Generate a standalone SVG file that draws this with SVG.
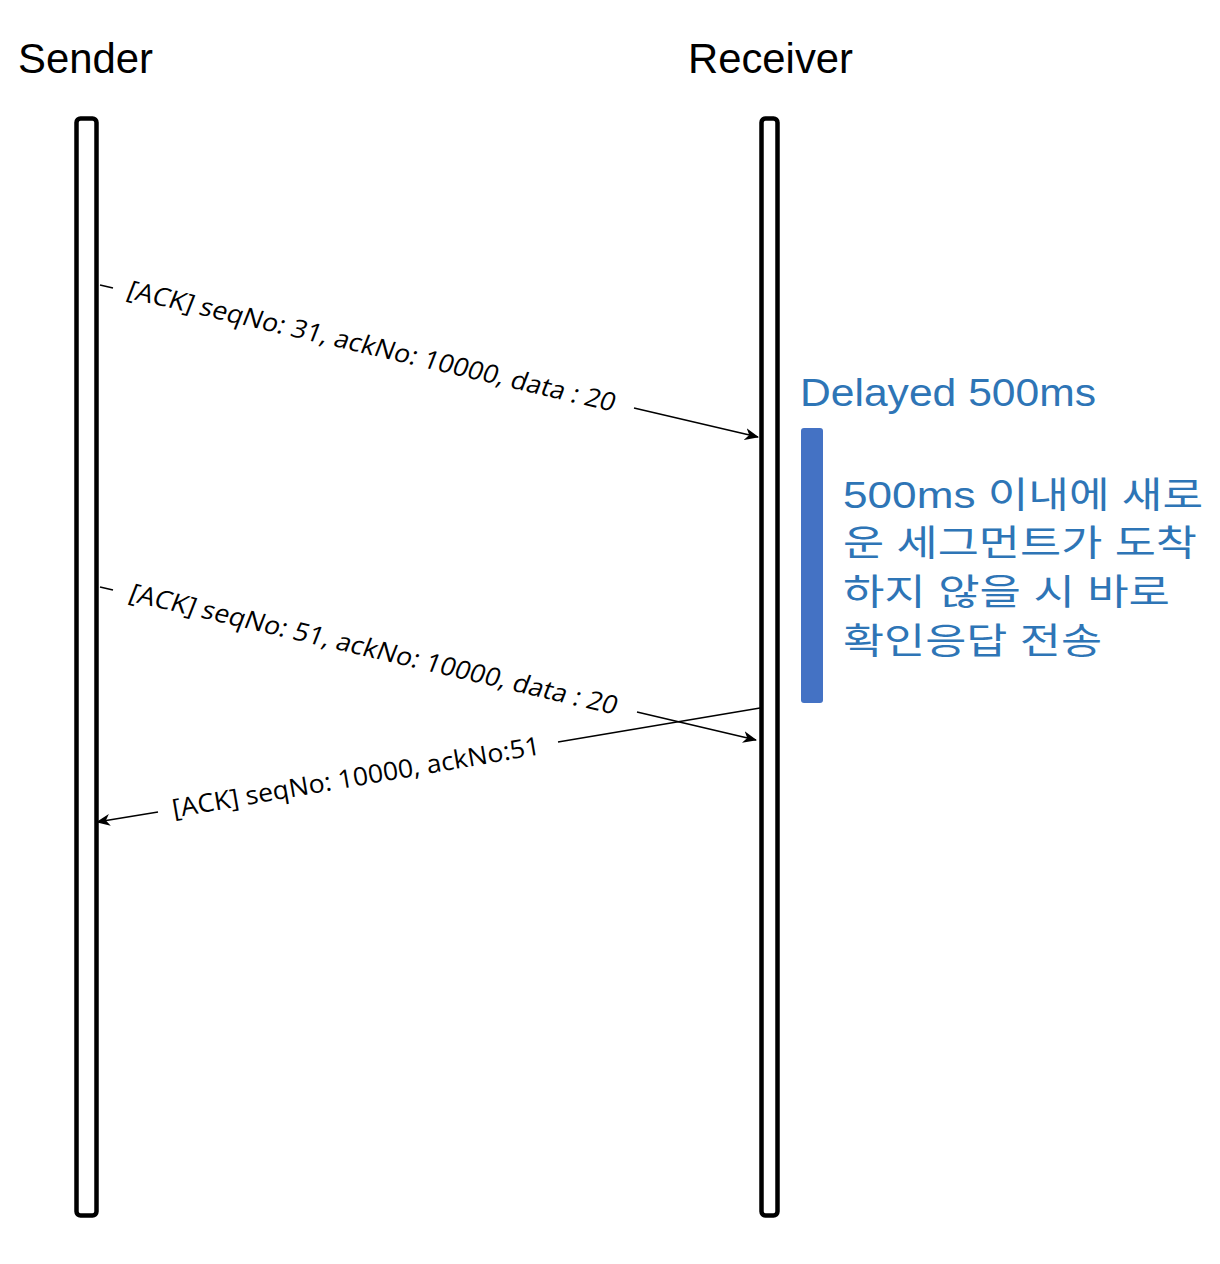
<svg xmlns="http://www.w3.org/2000/svg" width="1220" height="1264" viewBox="0 0 1220 1264">
<style>
.life{fill:#fff;stroke:#000;stroke-width:4.5}
.ttl{font-family:"Liberation Sans",Arial,sans-serif;font-size:42px;fill:#000}
.msg{font-family:"Open Sans","Noto Sans",sans-serif;font-size:25.5px;fill:#000}
.conn{stroke:#000;stroke-width:1.5;fill:none}
.note{font-family:"Liberation Sans","Noto Sans CJK KR",sans-serif;font-size:38px;fill:#2E75B6}
.kr{font-family:"Liberation Sans","Noto Sans CJK KR",sans-serif;font-size:36px;fill:#2E75B6}
</style>
<defs>
<marker id="ah" markerWidth="14" markerHeight="12" viewBox="0 0 14 12" refX="13" refY="6" orient="auto" markerUnits="userSpaceOnUse">
<path d="M0,0 L14,6 L0,12 L4,6 Z" fill="#000"/>
</marker>
</defs>
<rect width="1220" height="1264" fill="#fff"/>
<g id="sender">
<text class="ttl" x="18" y="73" textLength="135" lengthAdjust="spacingAndGlyphs">Sender</text>
<rect class="life" x="76.5" y="118.5" width="20" height="1097" rx="4"/>
</g>
<g id="receiver">
<text class="ttl" x="688" y="73" textLength="165" lengthAdjust="spacingAndGlyphs">Receiver</text>
<rect class="life" x="761.5" y="118.5" width="16" height="1097" rx="4"/>
</g>
<g id="delay">
<text class="note" x="800" y="406" textLength="296" lengthAdjust="spacingAndGlyphs">Delayed 500ms</text>
<rect x="801" y="428" width="22" height="275" rx="3" fill="#4472C4"/>
<text class="kr" x="843" y="508" textLength="360" lengthAdjust="spacingAndGlyphs">500ms 이내에 새로</text>
<text class="kr" x="843" y="556" textLength="354" lengthAdjust="spacingAndGlyphs">운 세그먼트가 도착</text>
<text class="kr" x="843" y="605" textLength="327" lengthAdjust="spacingAndGlyphs">하지 않을 시 바로</text>
<text class="kr" x="843" y="654" textLength="259" lengthAdjust="spacingAndGlyphs">확인응답 전송</text>
</g>
<g id="connectors">
<line class="conn" x1="100" y1="285" x2="113" y2="288"/>
<line class="conn" x1="634" y1="408" x2="758" y2="437" marker-end="url(#ah)"/>
<line class="conn" x1="100" y1="587" x2="113" y2="590"/>
<line class="conn" x1="637" y1="712" x2="756" y2="740" marker-end="url(#ah)"/>
<line class="conn" x1="760" y1="708" x2="558" y2="742"/>
<line class="conn" x1="158" y1="812" x2="97" y2="822" marker-end="url(#ah)"/>
<text class="msg" transform="translate(372,346) rotate(13.2) skewX(-8)" text-anchor="middle" dy="9" textLength="500" lengthAdjust="spacingAndGlyphs">[ACK] seqNo: 31, ackNo: 10000, data : 20</text>
<text class="msg" transform="translate(374,649) rotate(13.2) skewX(-8)" text-anchor="middle" dy="9" textLength="500" lengthAdjust="spacingAndGlyphs">[ACK] seqNo: 51, ackNo: 10000, data : 20</text>
<text class="msg" transform="translate(356,777) rotate(-9.8)" text-anchor="middle" dy="9" textLength="373" lengthAdjust="spacingAndGlyphs">[ACK] seqNo: 10000, ackNo:51</text>
</g>
</svg>
